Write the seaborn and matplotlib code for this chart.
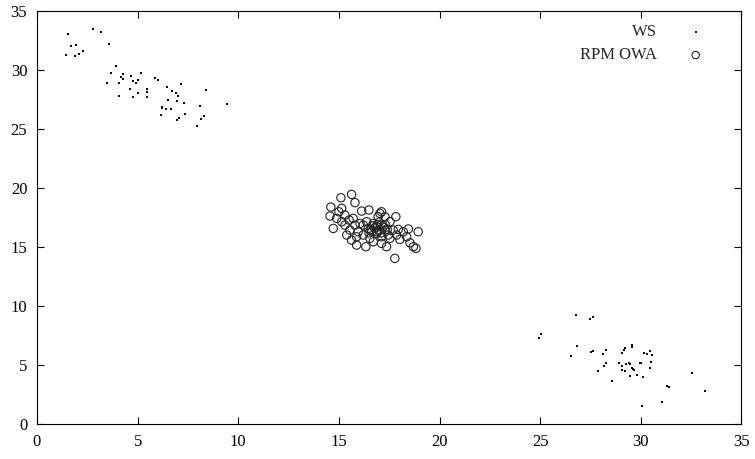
import numpy as np
import pandas as pd
import matplotlib
matplotlib.use("Agg")
import matplotlib.pyplot as plt
import seaborn as sns

# --- data ---
ws_x = [1.54, 2.77, 3.2, 1.69, 1.95, 2.29, 2.1, 1.87, 1.46, 3.58, 3.94, 3.69, 3.46,
        4.29, 4.16, 4.27, 4.06, 4.06, 4.67, 5.17, 4.79, 5.0, 4.9, 4.6, 5.03, 4.79,
        5.45, 5.46, 5.45, 5.85, 6.01, 6.46, 6.69, 6.89, 7.0, 7.17, 6.52, 6.97, 7.3,
        6.21, 6.22, 6.42, 6.64, 6.16, 7.35, 7.05, 6.95, 8.38, 8.1, 8.31, 8.16, 7.96,
        9.42,
        26.79, 27.47, 27.64, 25.02, 24.95, 26.81, 26.53, 27.54, 27.65, 28.25, 28.13,
        28.25, 28.18, 27.87, 28.58, 29.23, 29.18, 29.08, 29.56, 29.56, 30.14, 30.32,
        30.47, 30.54, 28.91, 29.08, 29.29, 29.39, 29.44, 29.08, 29.23, 29.56, 29.62,
        29.66, 29.47, 29.79, 30.12, 29.97, 30.0, 30.5, 30.47, 32.54, 31.28, 31.38,
        33.18, 31.06, 30.05]
ws_y = [33.08, 33.47, 33.2, 32.06, 32.09, 31.64, 31.38, 31.16, 31.24, 32.17, 30.31,
        29.72, 28.93, 29.63, 29.41, 29.21, 28.93, 27.82, 29.47, 29.75, 29.07, 29.13,
        28.87, 28.39, 28.05, 27.69, 28.42, 28.11, 27.74, 29.35, 29.15, 28.58, 28.19,
        28.03, 27.82, 28.81, 27.43, 27.37, 27.2, 26.84, 26.75, 26.69, 26.67, 26.21,
        26.3, 25.93, 25.76, 28.28, 26.95, 26.1, 25.82, 25.23, 27.09,
        9.24, 8.9, 9.07, 7.6, 7.29, 6.64, 5.74, 6.13, 6.19, 6.3, 5.9, 5.14, 4.89,
        4.52, 3.62, 6.47, 6.27, 6.02, 6.69, 6.53, 5.99, 5.93, 6.16, 5.87, 5.17, 4.89,
        5.08, 5.14, 5.11, 4.58, 4.52, 4.72, 4.64, 4.55, 4.04, 4.12, 3.96, 5.14, 5.17,
        5.25, 4.75, 4.32, 3.22, 3.14, 2.8, 1.84, 1.53]

owa_x = [15.1, 15.63, 15.8, 14.6, 14.56, 15.14, 15.0, 14.72, 14.89, 15.3, 15.51,
         15.71, 16.13, 16.49, 17.04, 16.95, 17.83, 17.54, 15.3, 15.55, 15.96, 16.21,
         16.46, 16.71, 16.88, 17.12, 17.29, 17.7, 17.95, 18.45, 18.94, 15.39, 15.88,
         16.54, 17.12, 17.54, 18.03, 18.37, 15.88, 16.34, 17.12, 17.37, 18.53, 18.7,
         18.83, 17.78, 16.71, 15.63, 16.88, 16.63, 16.38, 16.05, 15.8, 15.14, 17.29,
         17.12, 17.45, 17.87, 18.2, 16.21,
         16.8, 17.0, 16.9, 17.2, 16.6, 17.1, 16.7, 17.3, 16.5, 17.0, 16.9, 17.4]
owa_y = [19.18, 19.46, 18.76, 18.39, 17.63, 18.28, 17.99, 16.58, 17.43, 17.71, 17.29,
         17.43, 18.05, 18.14, 17.85, 17.57, 17.57, 17.15, 16.86, 16.44, 16.3, 16.86,
         16.58, 17.0, 16.72, 16.86, 16.44, 16.44, 16.5, 16.53, 16.3, 16.02, 15.87,
         15.74, 15.87, 15.74, 15.65, 15.87, 15.17, 15.03, 15.31, 15.03, 15.36, 15.03,
         14.89, 14.04, 15.45, 15.59, 16.16, 16.3, 17.15, 17.0, 16.86, 17.15, 17.57,
         17.99, 16.02, 16.02, 16.3, 16.02,
         16.6, 16.4, 16.9, 16.7, 16.5, 16.2, 16.8, 16.9, 16.2, 17.1, 16.3, 16.5]

xticks = [0, 5, 10, 15, 20, 25, 30, 35]
yticks = [0, 5, 10, 15, 20, 25, 30, 35]

sns.set_style("ticks")
plt.rcParams['font.family'] = ['Liberation Serif', 'DejaVu Serif']
plt.rcParams['xtick.direction'] = 'in'
plt.rcParams['ytick.direction'] = 'in'

ws = pd.DataFrame({'x': ws_x, 'y': ws_y})
owa = pd.DataFrame({'x': owa_x, 'y': owa_y})

fig = plt.figure(figsize=(7.55, 4.59), dpi=100)
ax = fig.add_axes([0.049, 0.076, 0.933, 0.900])

sns.scatterplot(data=ws, x='x', y='y', ax=ax, marker='s', s=3, color='black',
                linewidth=0, label='WS')
sns.scatterplot(data=owa, x='x', y='y', ax=ax, marker='o', s=36,
                facecolors='none', edgecolor='#222222', linewidth=0.8,
                label='RPM OWA')

ax.set_xlim(0, 35)
ax.set_ylim(0, 35)
ax.set_xticks(xticks)
ax.set_yticks(yticks)
ax.set_xlabel('')
ax.set_ylabel('')
ax.tick_params(axis='both', which='both', top=True, right=True, length=5,
               width=0.8, labelsize=12, color='black', labelcolor='black')
ax.tick_params(axis='x', pad=7)
ax.tick_params(axis='y', pad=7)
for sp in ax.spines.values():
    sp.set_color('black')
    sp.set_linewidth(0.8)

leg = ax.legend(loc='upper right', bbox_to_anchor=(0.98, 1.005), frameon=False,
                markerfirst=False, fontsize=12, handletextpad=1.3,
                labelspacing=0.45, markerscale=1.0)
leg.legend_handles[0].set_sizes([3])
leg.legend_handles[1].set_sizes([28])

fig.savefig('out.png', dpi=100)
